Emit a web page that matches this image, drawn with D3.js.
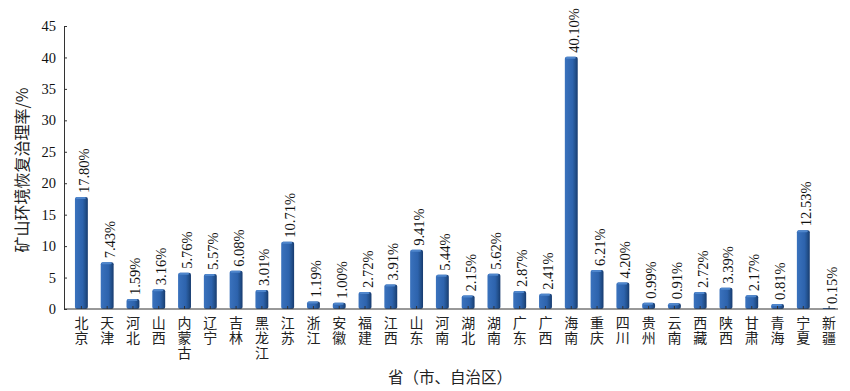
<!DOCTYPE html>
<html><head><meta charset="utf-8">
<script src="https://cdn.jsdelivr.net/npm/d3@7"></script>
<style>body{margin:0;background:#fff}</style>
</head><body>
<svg id="c" width="850" height="391"></svg>
<script>
const categories = ["北京","天津","河北","山西","内蒙古","辽宁","吉林","黑龙江","江苏","浙江","安徽","福建","江西","山东","河南","湖北","湖南","广东","广西","海南","重庆","四川","贵州","云南","西藏","陕西","甘肃","青海","宁夏","新疆"];
const values = [17.80,7.43,1.59,3.16,5.76,5.57,6.08,3.01,10.71,1.19,1.00,2.72,3.91,9.41,5.44,2.15,5.62,2.87,2.41,40.10,6.21,4.20,0.99,0.91,2.72,3.39,2.17,0.81,12.53,0.15];
const labels = ["17.80%","7.43%","1.59%","3.16%","5.76%","5.57%","6.08%","3.01%","10.71%","1.19%","1.00%","2.72%","3.91%","9.41%","5.44%","2.15%","5.62%","2.87%","2.41%","40.10%","6.21%","4.20%","0.99%","0.91%","2.72%","3.39%","2.17%","0.81%","12.53%","0.15%"];
const yTicks = [0,5,10,15,20,25,30,35,40,45];
const yTitle = "矿山环境恢复治理率/%";
const xTitle = "省（市、自治区）";

const svg = d3.select("#c");
const x0 = 64, x1 = 838, yBase = 309, yTop = 26;
const x = d3.scaleBand().domain(d3.range(categories.length)).range([68.5, 842]).paddingInner(0.5).paddingOuter(0.25);
const y = d3.scaleLinear().domain([0,45]).range([yBase, yTop]);

const defs = svg.append("defs");
const g = defs.append("linearGradient").attr("id","bg").attr("x1","0").attr("x2","1").attr("y1","0").attr("y2","0");
g.append("stop").attr("offset","0").attr("stop-color","#3a72bd");
g.append("stop").attr("offset","0.6").attr("stop-color","#2d63ad");
g.append("stop").attr("offset","0.8").attr("stop-color","#23528f");
g.append("stop").attr("offset","1").attr("stop-color","#163a6e");

const serif = "'Liberation Serif','Times New Roman',serif";
const cjk = "'Noto Sans CJK SC',sans-serif";

// bars
const bars = svg.append("g");
const bw = x.bandwidth();
categories.forEach((c,i)=>{
  const bx = x(i), by = y(values[i]), h = yBase - by;
  bars.append("rect").attr("x",bx).attr("y",by).attr("width",bw).attr("height",h)
    .attr("fill","url(#bg)").attr("rx",Math.min(2,h/2));
  if (h > 3) bars.append("rect").attr("x",bx+1).attr("y",by).attr("width",bw-3).attr("height",2)
    .attr("fill","#4f86cc").attr("rx",1);
});

// value labels
svg.append("g").selectAll("text").data(labels).join("text")
  .attr("transform",(d,i)=>`translate(${x(i)+bw/2+7.5},${y(values[i])-4}) rotate(-90)`)
  .attr("font-family",serif).attr("font-size",14.5).attr("fill","#111")
  .text(d=>d);

// y axis
const ya = d3.axisLeft(y).tickValues(yTicks).tickSize(-3).tickPadding(8);
const yg = svg.append("g").attr("transform",`translate(${x0},0)`).call(ya);
yg.selectAll("text").attr("font-family",serif).attr("font-size",14.5).attr("fill","#111");
yg.selectAll("line,path").attr("stroke","#333");

// x axis
const xa = d3.axisBottom(x).tickSize(-3).tickFormat("");
const xg = svg.append("g").attr("transform",`translate(0,${yBase})`).call(xa);
xg.select("path").attr("d",`M${x0},0H${x1}`).attr("stroke","#333");
xg.selectAll("line").attr("stroke","#333");

// category labels (vertical)
svg.append("g").selectAll("text").data(categories).join("text")
  .attr("x",(d,i)=>x(i)+bw/2).attr("y",316)
  .attr("font-family",cjk).attr("font-size",14).attr("fill","#222")
  .style("writing-mode","vertical-rl").style("text-orientation","upright")
  .style("letter-spacing","1px")
  .text(d=>d);

// titles
svg.append("text").attr("transform","translate(28,170) rotate(-90)").attr("text-anchor","middle")
  .attr("font-family",cjk).attr("font-size",16).attr("fill","#222").text(yTitle);
svg.append("text").attr("x",450).attr("y",383).attr("text-anchor","middle")
  .attr("font-family",cjk).attr("font-size",15.5).attr("fill","#222").text(xTitle);
</script>
</body></html>
